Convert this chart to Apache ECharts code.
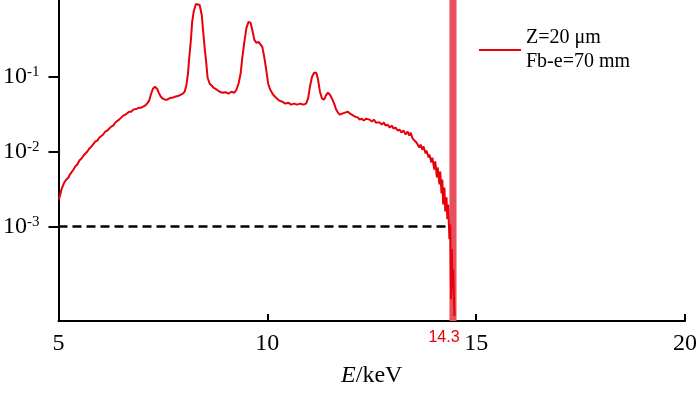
<!DOCTYPE html>
<html>
<head>
<meta charset="utf-8">
<script src="https://cdn.jsdelivr.net/npm/echarts@6/dist/echarts.min.js"></script>
<style>html,body{margin:0;padding:0;background:#fff;}#c{width:700px;height:393px;}</style>
</head>
<body>
<div id="c"></div>
<script>
// Energy (keV)
const energy = [5.01,5.05,5.07,5.10,5.12,5.14,5.17,5.19,5.24,5.26,5.31,5.36,5.40,5.45,5.50,5.55,5.60,5.64,5.69,5.74,5.79,5.83,5.88,5.93,5.98,6.02,6.07,6.12,6.17,6.21,6.26,6.31,6.36,6.40,6.45,6.50,6.55,6.60,6.64,6.69,6.74,6.79,6.83,6.88,6.93,6.98,7.02,7.07,7.12,7.17,7.21,7.26,7.31,7.36,7.40,7.45,7.50,7.55,7.60,7.64,7.69,7.74,7.79,7.83,7.88,7.93,7.98,8.02,8.06,8.10,8.13,8.17,8.20,8.24,8.29,8.33,8.38,8.43,8.46,8.50,8.54,8.57,8.62,8.67,8.71,8.79,8.86,8.93,9.00,9.07,9.14,9.21,9.26,9.31,9.36,9.40,9.45,9.50,9.55,9.60,9.64,9.69,9.74,9.79,9.83,9.88,9.93,9.98,10.02,10.07,10.14,10.21,10.29,10.36,10.43,10.50,10.57,10.64,10.71,10.79,10.86,10.93,10.98,11.02,11.07,11.12,11.17,11.21,11.26,11.31,11.36,11.40,11.45,11.50,11.55,11.60,11.64,11.69,11.74,11.79,11.86,11.93,11.98,12.02,12.10,12.17,12.21,12.26,12.31,12.36,12.40,12.45,12.50,12.55,12.60,12.64,12.69,12.74,12.79,12.83,12.88,12.93,12.98,13.02,13.07,13.12,13.17,13.21,13.26,13.31,13.36,13.40,13.43,13.48,13.52,13.57,13.60,13.64,13.67,13.71,13.74,13.79,13.81,13.86,13.88,13.93,13.95,14.00,14.02,14.06,14.08,14.12,14.14,14.17,14.19,14.21,14.24,14.26,14.29,14.31,14.33,14.36,14.38,14.40,14.42,14.43,14.45,14.48];
// Normalised intensity
const intensity = [0.00229,0.00275,0.00311,0.00342,0.00331,0.00386,0.00375,0.00423,0.0045,0.00479,0.00525,0.00575,0.0063,0.00671,0.00759,0.00807,0.00885,0.0094,0.0100,0.0110,0.0117,0.0124,0.0136,0.0140,0.0154,0.0163,0.0169,0.0185,0.0191,0.0203,0.0215,0.0222,0.0244,0.0251,0.0267,0.0284,0.0302,0.0311,0.0321,0.0341,0.0341,0.0363,0.0363,0.0374,0.0386,0.0386,0.0398,0.0410,0.0437,0.0479,0.0575,0.0692,0.0736,0.0692,0.0612,0.0541,0.0509,0.0494,0.0494,0.0509,0.0525,0.0525,0.0541,0.0558,0.0558,0.0575,0.0593,0.0631,0.0759,0.1096,0.179,0.311,0.541,0.759,0.940,0.985,0.912,0.671,0.423,0.244,0.149,0.097,0.0807,0.0759,0.0713,0.0671,0.0631,0.0612,0.0621,0.0593,0.0631,0.0612,0.0671,0.0807,0.1096,0.179,0.293,0.450,0.541,0.525,0.423,0.311,0.284,0.293,0.293,0.251,0.179,0.117,0.0807,0.0671,0.0575,0.0525,0.0479,0.0464,0.0437,0.0450,0.0424,0.0437,0.0424,0.0437,0.0424,0.0437,0.0525,0.0736,0.100,0.113,0.113,0.094,0.0631,0.0509,0.0494,0.0558,0.0612,0.0575,0.0509,0.0437,0.0374,0.0331,0.0311,0.0321,0.0331,0.0341,0.0321,0.0311,0.0293,0.0284,0.0267,0.0275,0.0259,0.0275,0.0259,0.0267,0.0251,0.0267,0.0244,0.0259,0.0244,0.0229,0.0244,0.0222,0.0229,0.0209,0.0222,0.0203,0.0209,0.0191,0.0196,0.0179,0.0191,0.0169,0.0185,0.0163,0.0179,0.0149,0.0158,0.0132,0.0140,0.0113,0.0124,0.0106,0.0117,0.0094,0.0103,0.0083,0.0091,0.00713,0.0083,0.00575,0.00736,0.0045,0.00612,0.00363,0.00541,0.00275,0.00423,0.00196,0.00331,0.00158,0.00244,0.00124,0.00196,0.00067,0.00106,0.000106,0.000493,0.000145,0.000267,0.0000631];
const xTicks = [5, 10, 15, 20];
const yTicks = [0.1, 0.01, 0.001];
const yExps = {'0.1': '-1', '0.01': '-2', '0.001': '-3'};
const threshold = 0.001;
const cutoff = [14.36, 14.53];
const cutoffLabel = '14.3';
const seriesName = 'Z=20 μm\nFb-e=70 mm';

const serif = '"Liberation Serif","Times New Roman",serif';
const chart = echarts.init(document.getElementById('c'), null, {renderer: 'canvas'});
chart.setOption({
  animation: false,
  grid: {left: 57, right: 13, top: 0, bottom: 71, containLabel: false},
  legend: {
    data: [seriesName],
    left: 474, top: 21, orient: 'vertical',
    itemWidth: 42, itemHeight: 2, itemGap: 8,
    icon: 'rect',
    textStyle: {fontFamily: serif, fontSize: 20, color: '#000', lineHeight: 24, padding: [0,0,0,0]}
  },
  xAxis: {
    type: 'value', min: 5, max: 20, interval: 5,
    name: '{i|E}/keV', nameLocation: 'middle', nameGap: 43,
    nameTextStyle: {fontFamily: serif, fontSize: 24, color: '#000',
      rich: {i: {fontFamily: serif, fontSize: 24, fontStyle: 'italic', color: '#000'}}},
    axisLine: {onZero: false, lineStyle: {color: '#000', width: 2}},
    axisTick: {inside: true, length: 7, lineStyle: {color: '#000', width: 2}},
    axisLabel: {fontFamily: serif, fontSize: 24, color: '#000', margin: 11,
      customValues: xTicks},
    splitLine: {show: false}
  },
  yAxis: {
    type: 'log', logBase: 10, min: 0.0000541, max: 1.063,
    axisLine: {show: true, lineStyle: {color: '#000', width: 2}},
    axisTick: {show: true, inside: false, length: 10, lineStyle: {color: '#000', width: 2},
      customValues: yTicks},
    axisLabel: {
      customValues: yTicks, margin: 19,
      formatter: function (v) {
        const k = Object.keys(yExps).find(key => Math.abs(Number(key) - v) / v < 1e-6);
        return k ? '{b|10}{s|' + yExps[k] + '}' : '';
      },
      rich: {
        b: {fontFamily: serif, fontSize: 24, color: '#000', verticalAlign: 'bottom'},
        s: {fontFamily: serif, fontSize: 15, color: '#000', verticalAlign: 'bottom', padding: [0, 0, 9, 0]}
      }
    },
    splitLine: {show: false}
  },
  series: [
    {
      type: 'line', name: 'band', data: [], z: 1,
      markArea: {
        silent: true,
        itemStyle: {color: '#e8505f', opacity: 1},
        label: {show: true, position: 'bottom', distance: 9, offset: [-9, 0], formatter: cutoffLabel,
          color: '#e8000b', fontSize: 16, fontFamily: '"Liberation Sans",Arial,sans-serif'},
        data: [[{xAxis: cutoff[0]}, {xAxis: cutoff[1]}]]
      }
    },
    {
      type: 'line', name: seriesName, z: 3,
      data: energy.map((e, i) => [e, intensity[i]]),
      showSymbol: false, symbol: 'none',
      lineStyle: {color: '#e8000b', width: 2},
      itemStyle: {color: '#e8000b'},
      markLine: {
        silent: true, symbol: 'none', label: {show: false},
        lineStyle: {color: '#000', width: 2.5, type: [9, 5]},
        data: [[{coord: [5, threshold]}, {coord: [cutoff[0], threshold]}]]
      }
    }
  ]
});
</script>
</body>
</html>
